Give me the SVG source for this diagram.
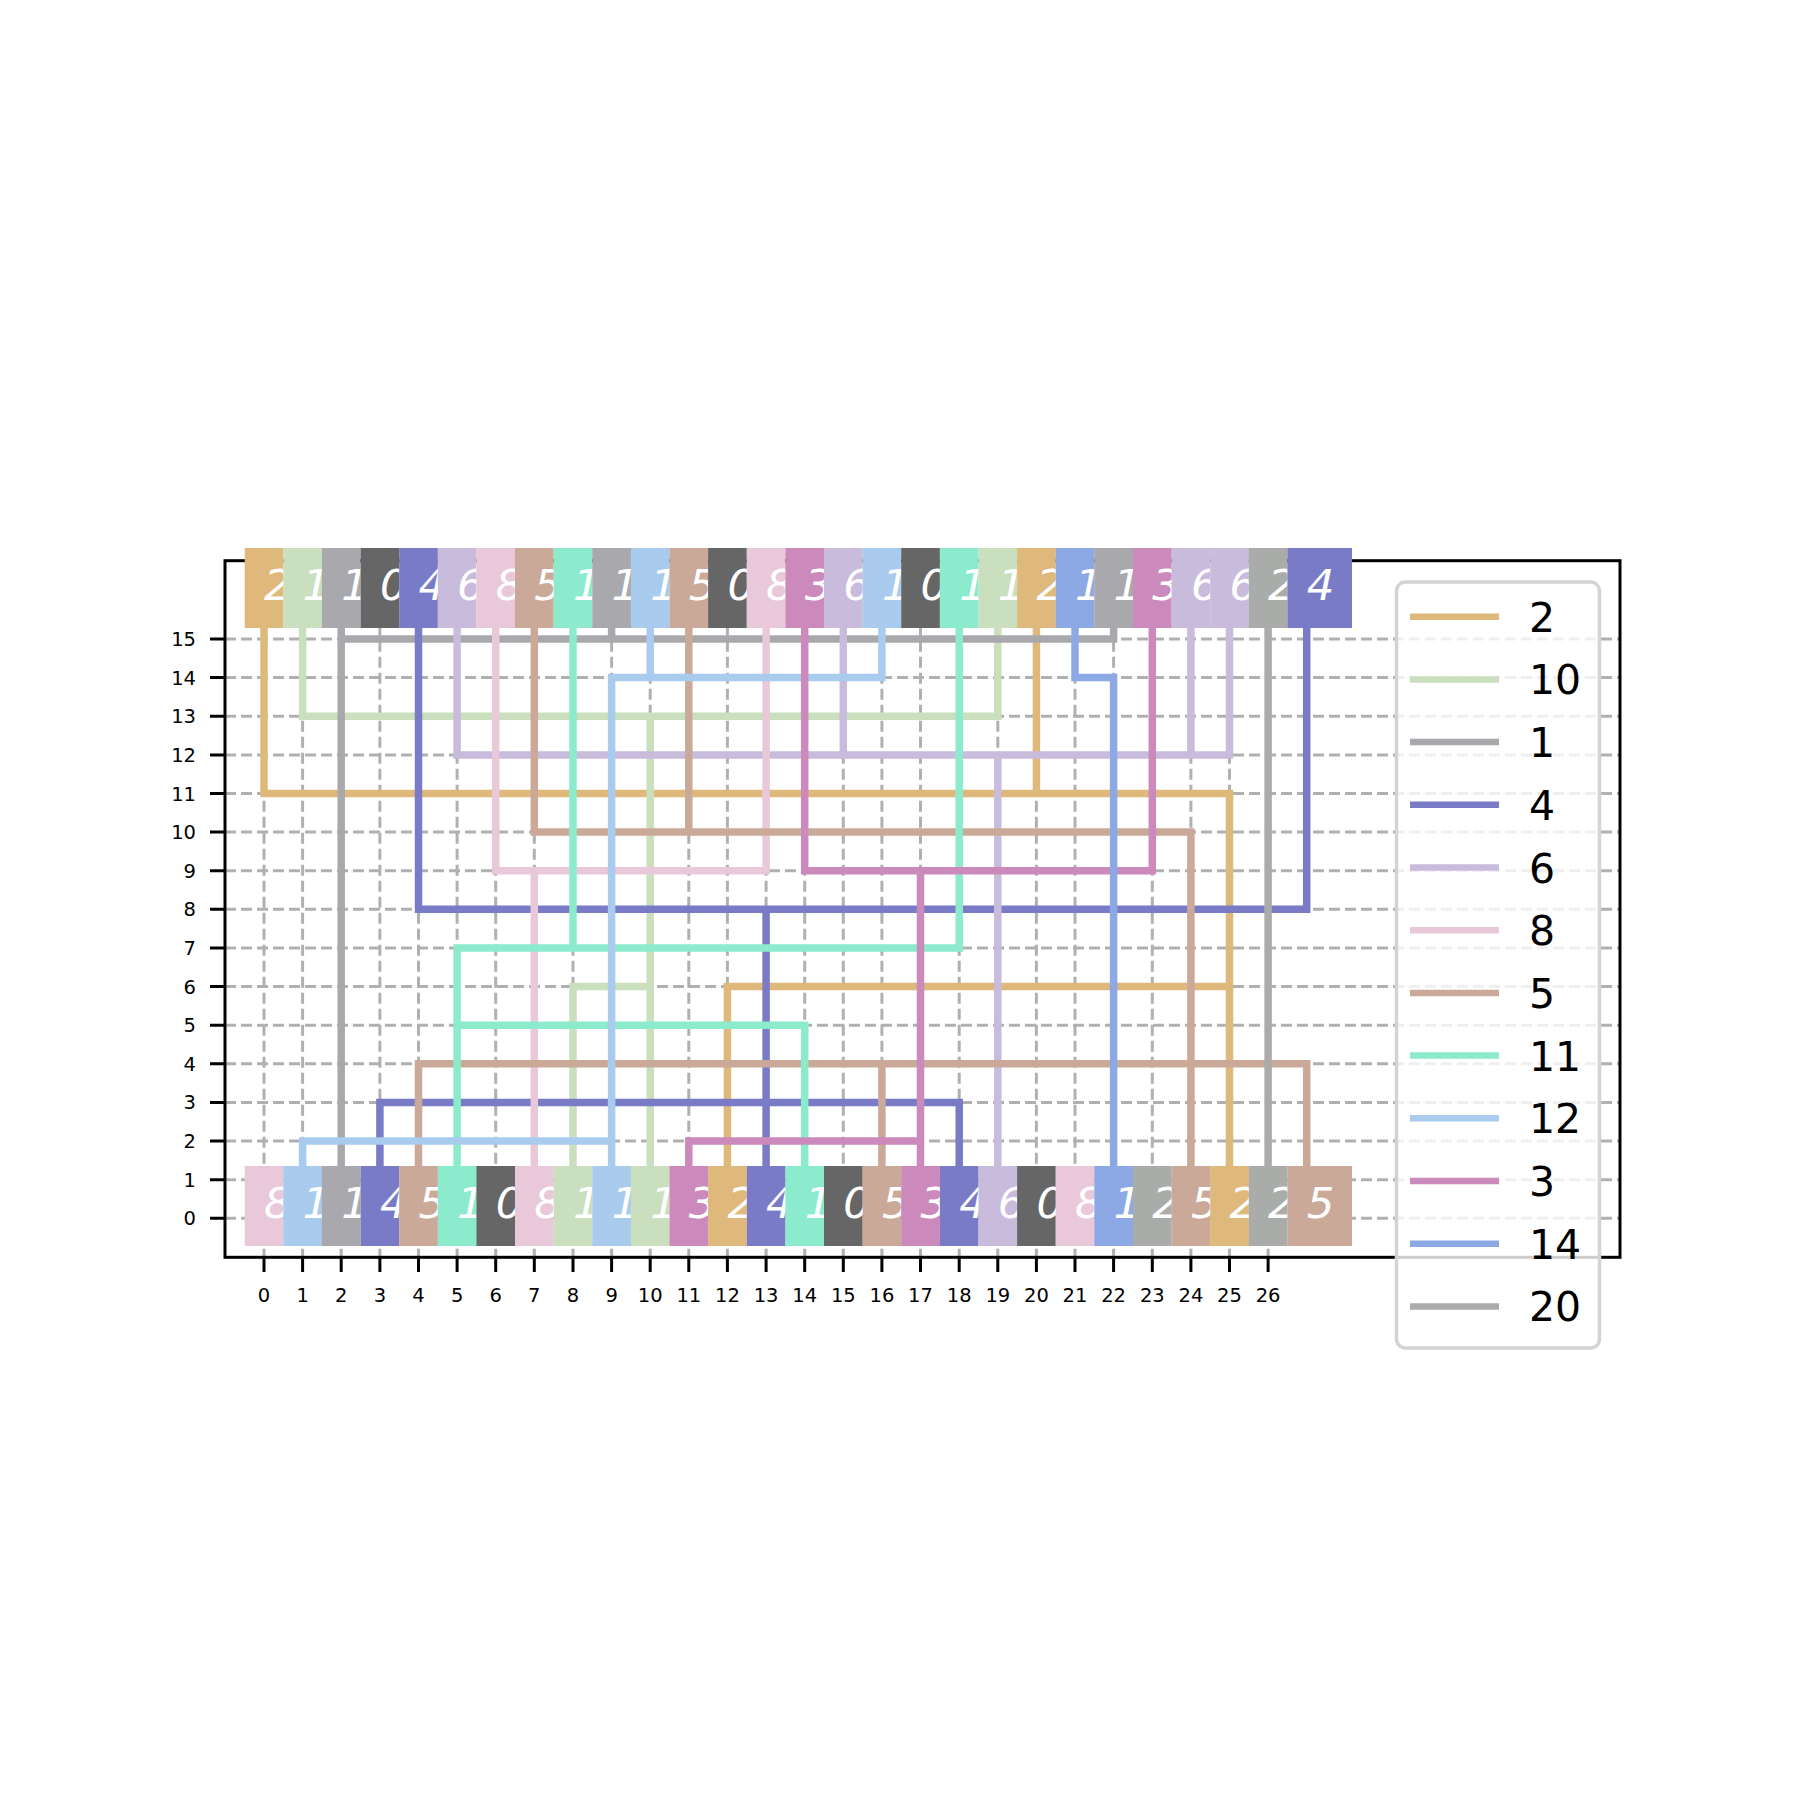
<svg xmlns="http://www.w3.org/2000/svg" width="1800" height="1800" viewBox="0 0 1800 1800">
<style>
.grid{stroke:#b0b0b0;stroke-width:3;stroke-dasharray:11 5;fill:none}
.tick{stroke:#000;stroke-width:3}
.tl{font-family:"DejaVu Sans",sans-serif;font-size:19.5px;fill:#000}
.net{fill:none;stroke-width:7.5;stroke-linecap:square;stroke-linejoin:miter}
.pin{font-family:"DejaVu Sans",sans-serif;font-size:43.5px;font-style:italic;fill:#fff}
.lg{font-family:"DejaVu Sans",sans-serif;font-size:41px;fill:#000}
.lh{stroke-width:6.5;stroke-linecap:butt}
.c2{stroke:#dfb97b}.c10{stroke:#c9dfbd}.c1{stroke:#a9a9ad}.c4{stroke:#7a7bc6}.c6{stroke:#c9bbdc}.c8{stroke:#e9c8d9}.c5{stroke:#caa999}.c11{stroke:#8cebcd}.c12{stroke:#a8cbee}.c3{stroke:#cc89bc}.c14{stroke:#8da9e5}.c20{stroke:#aaaca9}
.f2{fill:#dfb97b}.f10{fill:#c9dfbd}.f1{fill:#a9a9ad}.f4{fill:#7a7bc6}.f6{fill:#c9bbdc}.f8{fill:#e9c8d9}.f5{fill:#caa999}.f11{fill:#8cebcd}.f12{fill:#a8cbee}.f3{fill:#cc89bc}.f14{fill:#8da9e5}.f20{fill:#aaaca9}.f0{fill:#666666}
</style>
<rect width="1800" height="1800" fill="#fff"/>
<g id="grid">
<path class="grid" d="M225 1218.3H1620M225 1179.7H1620M225 1141.1H1620M225 1102.4H1620M225 1063.8H1620M225 1025.2H1620M225 986.6H1620M225 947.9H1620M225 909.3H1620M225 870.7H1620M225 832.1H1620M225 793.5H1620M225 754.9H1620M225 716.2H1620M225 677.6H1620M225 639H1620"/>
<path class="grid" d="M264 560.7V1257.3M302.6 560.7V1257.3M341.2 560.7V1257.3M379.9 560.7V1257.3M418.5 560.7V1257.3M457.1 560.7V1257.3M495.7 560.7V1257.3M534.3 560.7V1257.3M573 560.7V1257.3M611.6 560.7V1257.3M650.2 560.7V1257.3M688.8 560.7V1257.3M727.4 560.7V1257.3M766.1 560.7V1257.3M804.7 560.7V1257.3M843.3 560.7V1257.3M881.9 560.7V1257.3M920.5 560.7V1257.3M959.2 560.7V1257.3M997.8 560.7V1257.3M1036.4 560.7V1257.3M1075 560.7V1257.3M1113.6 560.7V1257.3M1152.3 560.7V1257.3M1190.9 560.7V1257.3M1229.5 560.7V1257.3M1268.1 560.7V1257.3"/>
</g>
<g id="connectors">
<path class="net c2" d="M264 600V793.5H1229.5V1218.3M1036.4 600V793.5M727.4 1218.3V986.6H1229.5"/>
<path class="net c10" d="M302.6 600V716.2H997.8V600M650.2 716.2V1218.3M573 1218.3V986.6H650.2"/>
<path class="net c1" d="M341.2 600V1218.3M341.2 639H1113.6V600M611.6 600V639"/>
<path class="net c4" d="M1306.7 600V909.3H418.5V600M766.1 909.3V1218.3M379.9 1218.3V1102.4H959.2V1218.3"/>
<path class="net c6" d="M457.1 600V754.9H1229.5V600M843.3 600V754.9M1190.9 600V754.9M997.8 754.9V1218.3"/>
<path class="net c8" d="M495.7 600V870.7H766.1V600M534.3 870.7V1218.3"/>
<path class="net c5" d="M534.3 600V832.1H1190.9V1218.3M688.8 600V832.1M418.5 1218.3V1063.8H1306.7V1218.3M881.9 1063.8V1218.3"/>
<path class="net c11" d="M573 600V947.9M457.1 1218.3V947.9H959.2V600M457.1 1025.2H804.7V1218.3"/>
<path class="net c12" d="M650.2 600V677.6M881.9 600V677.6H611.6V1218.3M611.6 1141.1H302.6V1218.3"/>
<path class="net c3" d="M804.7 600V870.7H1152.3V600M920.5 870.7V1218.3M688.8 1218.3V1141.1H920.5"/>
<path class="net c14" d="M1075 600V677.6H1113.6V1218.3"/>
<path class="net c20" d="M1268.1 600V1218.3"/>
</g>
<g id="axes">
<rect x="225" y="560.7" width="1395" height="696.6" fill="none" stroke="#000" stroke-width="3"/>
<path class="tick" d="M210 1218.3H225M210 1179.7H225M210 1141.1H225M210 1102.4H225M210 1063.8H225M210 1025.2H225M210 986.6H225M210 947.9H225M210 909.3H225M210 870.7H225M210 832.1H225M210 793.5H225M210 754.9H225M210 716.2H225M210 677.6H225M210 639H225"/>
<path class="tick" d="M264 1257.3V1272M302.6 1257.3V1272M341.2 1257.3V1272M379.9 1257.3V1272M418.5 1257.3V1272M457.1 1257.3V1272M495.7 1257.3V1272M534.3 1257.3V1272M573 1257.3V1272M611.6 1257.3V1272M650.2 1257.3V1272M688.8 1257.3V1272M727.4 1257.3V1272M766.1 1257.3V1272M804.7 1257.3V1272M843.3 1257.3V1272M881.9 1257.3V1272M920.5 1257.3V1272M959.2 1257.3V1272M997.8 1257.3V1272M1036.4 1257.3V1272M1075 1257.3V1272M1113.6 1257.3V1272M1152.3 1257.3V1272M1190.9 1257.3V1272M1229.5 1257.3V1272M1268.1 1257.3V1272"/>
<g class="tl" text-anchor="end">
<text x="196" y="1225.3">0</text><text x="196" y="1186.7">1</text><text x="196" y="1148.1">2</text><text x="196" y="1109.4">3</text><text x="196" y="1070.8">4</text><text x="196" y="1032.2">5</text><text x="196" y="993.6">6</text><text x="196" y="954.9">7</text><text x="196" y="916.3">8</text><text x="196" y="877.7">9</text><text x="196" y="839.1">10</text><text x="196" y="800.5">11</text><text x="196" y="761.9">12</text><text x="196" y="723.2">13</text><text x="196" y="684.6">14</text><text x="196" y="646">15</text>
</g>
<g class="tl" text-anchor="middle">
<text x="264" y="1302">0</text><text x="302.6" y="1302">1</text><text x="341.2" y="1302">2</text><text x="379.9" y="1302">3</text><text x="418.5" y="1302">4</text><text x="457.1" y="1302">5</text><text x="495.7" y="1302">6</text><text x="534.3" y="1302">7</text><text x="573" y="1302">8</text><text x="611.6" y="1302">9</text><text x="650.2" y="1302">10</text><text x="688.8" y="1302">11</text><text x="727.4" y="1302">12</text><text x="766.1" y="1302">13</text><text x="804.7" y="1302">14</text><text x="843.3" y="1302">15</text><text x="881.9" y="1302">16</text><text x="920.5" y="1302">17</text><text x="959.2" y="1302">18</text><text x="997.8" y="1302">19</text><text x="1036.4" y="1302">20</text><text x="1075" y="1302">21</text><text x="1113.6" y="1302">22</text><text x="1152.3" y="1302">23</text><text x="1190.9" y="1302">24</text><text x="1229.5" y="1302">25</text><text x="1268.1" y="1302">26</text>
</g>
</g>
<g id="top-pins">
<g id="t0"><rect class="f2" x="244.7" y="548" width="38.7" height="80"/><text class="pin" x="264" y="600.4">2</text></g>
<g id="t1"><rect class="f10" x="283.3" y="548" width="38.7" height="80"/><text class="pin" x="302.6" y="600.4">1</text></g>
<g id="t2"><rect class="f1" x="321.9" y="548" width="38.7" height="80"/><text class="pin" x="341.2" y="600.4">1</text></g>
<g id="t3"><rect class="f0" x="360.6" y="548" width="38.7" height="80"/><text class="pin" x="379.9" y="600.4">0</text></g>
<g id="t4"><rect class="f4" x="399.2" y="548" width="38.7" height="80"/><text class="pin" x="418.5" y="600.4">4</text></g>
<g id="t5"><rect class="f6" x="437.8" y="548" width="38.7" height="80"/><text class="pin" x="457.1" y="600.4">6</text></g>
<g id="t6"><rect class="f8" x="476.4" y="548" width="38.7" height="80"/><text class="pin" x="495.7" y="600.4">8</text></g>
<g id="t7"><rect class="f5" x="515" y="548" width="38.7" height="80"/><text class="pin" x="534.3" y="600.4">5</text></g>
<g id="t8"><rect class="f11" x="553.7" y="548" width="38.7" height="80"/><text class="pin" x="573" y="600.4">1</text></g>
<g id="t9"><rect class="f1" x="592.3" y="548" width="38.7" height="80"/><text class="pin" x="611.6" y="600.4">1</text></g>
<g id="t10"><rect class="f12" x="630.9" y="548" width="38.7" height="80"/><text class="pin" x="650.2" y="600.4">1</text></g>
<g id="t11"><rect class="f5" x="669.5" y="548" width="38.7" height="80"/><text class="pin" x="688.8" y="600.4">5</text></g>
<g id="t12"><rect class="f0" x="708.1" y="548" width="38.7" height="80"/><text class="pin" x="727.4" y="600.4">0</text></g>
<g id="t13"><rect class="f8" x="746.8" y="548" width="38.7" height="80"/><text class="pin" x="766.1" y="600.4">8</text></g>
<g id="t14"><rect class="f3" x="785.4" y="548" width="38.7" height="80"/><text class="pin" x="804.7" y="600.4">3</text></g>
<g id="t15"><rect class="f6" x="824" y="548" width="38.7" height="80"/><text class="pin" x="843.3" y="600.4">6</text></g>
<g id="t16"><rect class="f12" x="862.6" y="548" width="38.7" height="80"/><text class="pin" x="881.9" y="600.4">1</text></g>
<g id="t17"><rect class="f0" x="901.2" y="548" width="38.7" height="80"/><text class="pin" x="920.5" y="600.4">0</text></g>
<g id="t18"><rect class="f11" x="939.9" y="548" width="38.7" height="80"/><text class="pin" x="959.2" y="600.4">1</text></g>
<g id="t19"><rect class="f10" x="978.5" y="548" width="38.7" height="80"/><text class="pin" x="997.8" y="600.4">1</text></g>
<g id="t20"><rect class="f2" x="1017.1" y="548" width="38.7" height="80"/><text class="pin" x="1036.4" y="600.4">2</text></g>
<g id="t21"><rect class="f14" x="1055.7" y="548" width="38.7" height="80"/><text class="pin" x="1075" y="600.4">1</text></g>
<g id="t22"><rect class="f1" x="1094.3" y="548" width="38.7" height="80"/><text class="pin" x="1113.6" y="600.4">1</text></g>
<g id="t23"><rect class="f3" x="1133" y="548" width="38.7" height="80"/><text class="pin" x="1152.3" y="600.4">3</text></g>
<g id="t24"><rect class="f6" x="1171.6" y="548" width="38.7" height="80"/><text class="pin" x="1190.9" y="600.4">6</text></g>
<g id="t25"><rect class="f6" x="1210.2" y="548" width="38.7" height="80"/><text class="pin" x="1229.5" y="600.4">6</text></g>
<g id="t26"><rect class="f20" x="1248.8" y="548" width="38.7" height="80"/><text class="pin" x="1268.1" y="600.4">2</text></g>
<g id="t27"><rect class="f4" x="1287.4" y="548" width="64.6" height="80"/><text class="pin" x="1306.7" y="600.4">4</text></g>
</g>
<g id="bottom-pins">
<g id="b0"><rect class="f8" x="244.7" y="1166" width="38.7" height="80"/><text class="pin" x="264" y="1218.3">8</text></g>
<g id="b1"><rect class="f12" x="283.3" y="1166" width="38.7" height="80"/><text class="pin" x="302.6" y="1218.3">1</text></g>
<g id="b2"><rect class="f1" x="321.9" y="1166" width="38.7" height="80"/><text class="pin" x="341.2" y="1218.3">1</text></g>
<g id="b3"><rect class="f4" x="360.6" y="1166" width="38.7" height="80"/><text class="pin" x="379.9" y="1218.3">4</text></g>
<g id="b4"><rect class="f5" x="399.2" y="1166" width="38.7" height="80"/><text class="pin" x="418.5" y="1218.3">5</text></g>
<g id="b5"><rect class="f11" x="437.8" y="1166" width="38.7" height="80"/><text class="pin" x="457.1" y="1218.3">1</text></g>
<g id="b6"><rect class="f0" x="476.4" y="1166" width="38.7" height="80"/><text class="pin" x="495.7" y="1218.3">0</text></g>
<g id="b7"><rect class="f8" x="515" y="1166" width="38.7" height="80"/><text class="pin" x="534.3" y="1218.3">8</text></g>
<g id="b8"><rect class="f10" x="553.7" y="1166" width="38.7" height="80"/><text class="pin" x="573" y="1218.3">1</text></g>
<g id="b9"><rect class="f12" x="592.3" y="1166" width="38.7" height="80"/><text class="pin" x="611.6" y="1218.3">1</text></g>
<g id="b10"><rect class="f10" x="630.9" y="1166" width="38.7" height="80"/><text class="pin" x="650.2" y="1218.3">1</text></g>
<g id="b11"><rect class="f3" x="669.5" y="1166" width="38.7" height="80"/><text class="pin" x="688.8" y="1218.3">3</text></g>
<g id="b12"><rect class="f2" x="708.1" y="1166" width="38.7" height="80"/><text class="pin" x="727.4" y="1218.3">2</text></g>
<g id="b13"><rect class="f4" x="746.8" y="1166" width="38.7" height="80"/><text class="pin" x="766.1" y="1218.3">4</text></g>
<g id="b14"><rect class="f11" x="785.4" y="1166" width="38.7" height="80"/><text class="pin" x="804.7" y="1218.3">1</text></g>
<g id="b15"><rect class="f0" x="824" y="1166" width="38.7" height="80"/><text class="pin" x="843.3" y="1218.3">0</text></g>
<g id="b16"><rect class="f5" x="862.6" y="1166" width="38.7" height="80"/><text class="pin" x="881.9" y="1218.3">5</text></g>
<g id="b17"><rect class="f3" x="901.2" y="1166" width="38.7" height="80"/><text class="pin" x="920.5" y="1218.3">3</text></g>
<g id="b18"><rect class="f4" x="939.9" y="1166" width="38.7" height="80"/><text class="pin" x="959.2" y="1218.3">4</text></g>
<g id="b19"><rect class="f6" x="978.5" y="1166" width="38.7" height="80"/><text class="pin" x="997.8" y="1218.3">6</text></g>
<g id="b20"><rect class="f0" x="1017.1" y="1166" width="38.7" height="80"/><text class="pin" x="1036.4" y="1218.3">0</text></g>
<g id="b21"><rect class="f8" x="1055.7" y="1166" width="38.7" height="80"/><text class="pin" x="1075" y="1218.3">8</text></g>
<g id="b22"><rect class="f14" x="1094.3" y="1166" width="38.7" height="80"/><text class="pin" x="1113.6" y="1218.3">1</text></g>
<g id="b23"><rect class="f20" x="1133" y="1166" width="38.7" height="80"/><text class="pin" x="1152.3" y="1218.3">2</text></g>
<g id="b24"><rect class="f5" x="1171.6" y="1166" width="38.7" height="80"/><text class="pin" x="1190.9" y="1218.3">5</text></g>
<g id="b25"><rect class="f2" x="1210.2" y="1166" width="38.7" height="80"/><text class="pin" x="1229.5" y="1218.3">2</text></g>
<g id="b26"><rect class="f20" x="1248.8" y="1166" width="38.7" height="80"/><text class="pin" x="1268.1" y="1218.3">2</text></g>
<g id="b27"><rect class="f5" x="1287.4" y="1166" width="64.6" height="80"/><text class="pin" x="1306.7" y="1218.3">5</text></g>
</g>
<g id="legend">
<rect x="1396.5" y="582" width="203" height="766" rx="9" fill="#fff" fill-opacity="0.8" stroke="#d3d3d3" stroke-width="3.5"/>
<path class="lh c2" d="M1410 616.7H1499"/><text class="lg" x="1529" y="631.7">2</text>
<path class="lh c10" d="M1410 679.4H1499"/><text class="lg" x="1529" y="694.4">10</text>
<path class="lh c1" d="M1410 742.1H1499"/><text class="lg" x="1529" y="757.1">1</text>
<path class="lh c4" d="M1410 804.8H1499"/><text class="lg" x="1529" y="819.8">4</text>
<path class="lh c6" d="M1410 867.5H1499"/><text class="lg" x="1529" y="882.5">6</text>
<path class="lh c8" d="M1410 930.2H1499"/><text class="lg" x="1529" y="945.2">8</text>
<path class="lh c5" d="M1410 992.9H1499"/><text class="lg" x="1529" y="1007.9">5</text>
<path class="lh c11" d="M1410 1055.6H1499"/><text class="lg" x="1529" y="1070.6">11</text>
<path class="lh c12" d="M1410 1118.3H1499"/><text class="lg" x="1529" y="1133.3">12</text>
<path class="lh c3" d="M1410 1181H1499"/><text class="lg" x="1529" y="1196">3</text>
<path class="lh c14" d="M1410 1243.7H1499"/><text class="lg" x="1529" y="1258.7">14</text>
<path class="lh c20" d="M1410 1306.4H1499"/><text class="lg" x="1529" y="1321.4">20</text>
</g>
</svg>
